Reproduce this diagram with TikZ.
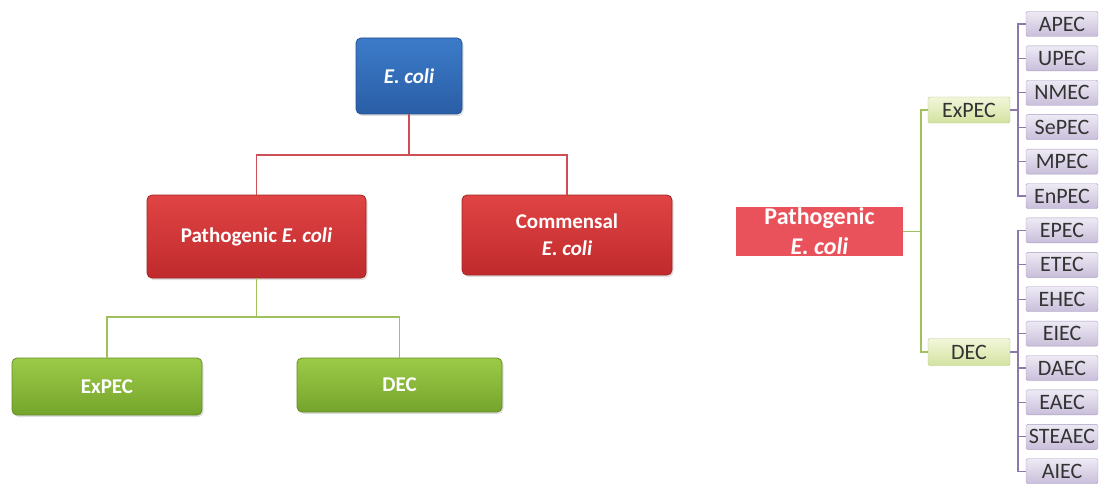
\documentclass[tikz,border=0pt]{standalone}
\usepackage{fontspec}
\setmainfont{Carlito}
\usetikzlibrary{shadows}

\definecolor{ecblue}{HTML}{3C7BC9}
\definecolor{ecbluedark}{HTML}{2A5EA6}
\definecolor{ecred}{HTML}{E04444}
\definecolor{ecreddark}{HTML}{C02A2C}
\definecolor{ecgreen}{HTML}{9CCB48}
\definecolor{ecgreendark}{HTML}{75A42C}
\definecolor{redline}{HTML}{CC4E57}
\definecolor{greenline}{HTML}{A0C05C}
\definecolor{purpleline}{HTML}{8C78AA}
\definecolor{flatred}{HTML}{E9525B}
\definecolor{limetop}{HTML}{F2F6DA}
\definecolor{limebottom}{HTML}{D3E2A0}
\definecolor{limeedge}{HTML}{B5C88A}
\definecolor{lilactop}{HTML}{EEEAF4}
\definecolor{lilacbottom}{HTML}{C9BEDA}
\definecolor{lilacedge}{HTML}{A99CC2}

\begin{document}
\begin{tikzpicture}[x=1pt, y=-1pt,
    bigbox/.style={draw, rounded corners=5pt, line width=0.8pt, text=white, align=center,
      inner sep=0pt, font=\bfseries\fontsize{21}{27}\selectfont,
      drop shadow={opacity=0.25, shadow xshift=1.5pt, shadow yshift=-2pt}},
    bluebox/.style={bigbox, draw=ecbluedark!85!black, top color=ecblue, bottom color=ecbluedark},
    redbox/.style={bigbox, draw=ecreddark!85!black, top color=ecred, bottom color=ecreddark},
    greenbox/.style={bigbox, draw=ecgreendark!85!black, top color=ecgreen, bottom color=ecgreendark},
    smallbox/.style={rounded corners=1.5pt, inner sep=0pt, text=black!80,
      font=\fontsize{22}{26}\selectfont, minimum height=25pt},
    limebox/.style={smallbox, draw=limeedge, top color=limetop, bottom color=limebottom},
    lilacbox/.style={smallbox, draw=lilacedge, top color=lilactop, bottom color=lilacbottom},
    link/.style={line width=1.6pt},
    sublink/.style={line width=1.1pt}]
    \useasboundingbox (0,0) rectangle (1099,484);

    \node[bluebox, minimum width=106pt, minimum height=76pt] (ecoli) at (409,76) {\textit{E. coli}};
    \node[redbox, minimum width=219pt, minimum height=83pt] (patho) at (256.5,236.5) {Pathogenic \textit{E. coli}};
    \node[redbox, minimum width=210pt, minimum height=80pt] (comm) at (567,235) {Commensal\\\textit{E. coli}};
    \node[greenbox, minimum width=190pt, minimum height=57pt] (expec) at (107,386.5) {ExPEC};
    \node[greenbox, minimum width=205pt, minimum height=54pt] (dec) at (399.5,385) {DEC};

    \coordinate (redbar) at (409,155);
    \coordinate (greenbar) at (256.5,317);
    \draw[link, redline] (ecoli.south) -- (redbar);
    \draw[link, redline] (patho.north) |- (redbar) -| (comm.north);
    \draw[link, greenline] (patho.south) -- (greenbar);
    \draw[link, greenline] (expec.north) |- (greenbar) -| (dec.north);

    \node[fill=flatred, text=white, align=center, inner sep=0pt, minimum width=167pt, minimum height=49pt,
      font=\bfseries\fontsize{24}{30}\selectfont] (rpatho) at (819.5,231.5) {Pathogenic\\\textit{E. coli}};
    \node[limebox, minimum width=82pt, minimum height=26pt] (rexpec) at (969,110) {ExPEC};
    \node[limebox, minimum width=82pt, minimum height=27pt] (rdec) at (969,352) {DEC};

    \foreach \name [count=\i from 0] in {APEC,UPEC,NMEC,SePEC,MPEC,EnPEC,EPEC,ETEC,EHEC,EIEC,DAEC,EAEC,STEAEC,AIEC}
      \node[lilacbox, minimum width=72pt] (\name) at (1062,{24+34.4*\i}) {\name};

    \coordinate (gjoin) at (921,231.5);
    \coordinate (pexpec) at (1018,110);
    \coordinate (pdec) at (1018,352);
    \draw[sublink, greenline] (rpatho.east) -- (gjoin);
    \draw[sublink, greenline] (rexpec.west) -| (gjoin) |- (rdec.west);
    \draw[sublink, purpleline] (rexpec.east) -- (pexpec);
    \draw[sublink, purpleline] (rdec.east) -- (pdec);
    \foreach \name in {APEC,UPEC,NMEC,SePEC,MPEC,EnPEC}
      \draw[sublink, purpleline] (pexpec) |- (\name.west);
    \foreach \name in {EPEC,ETEC,EHEC,EIEC,DAEC,EAEC,STEAEC,AIEC}
      \draw[sublink, purpleline] (pdec) |- (\name.west);
\end{tikzpicture}
\end{document}
